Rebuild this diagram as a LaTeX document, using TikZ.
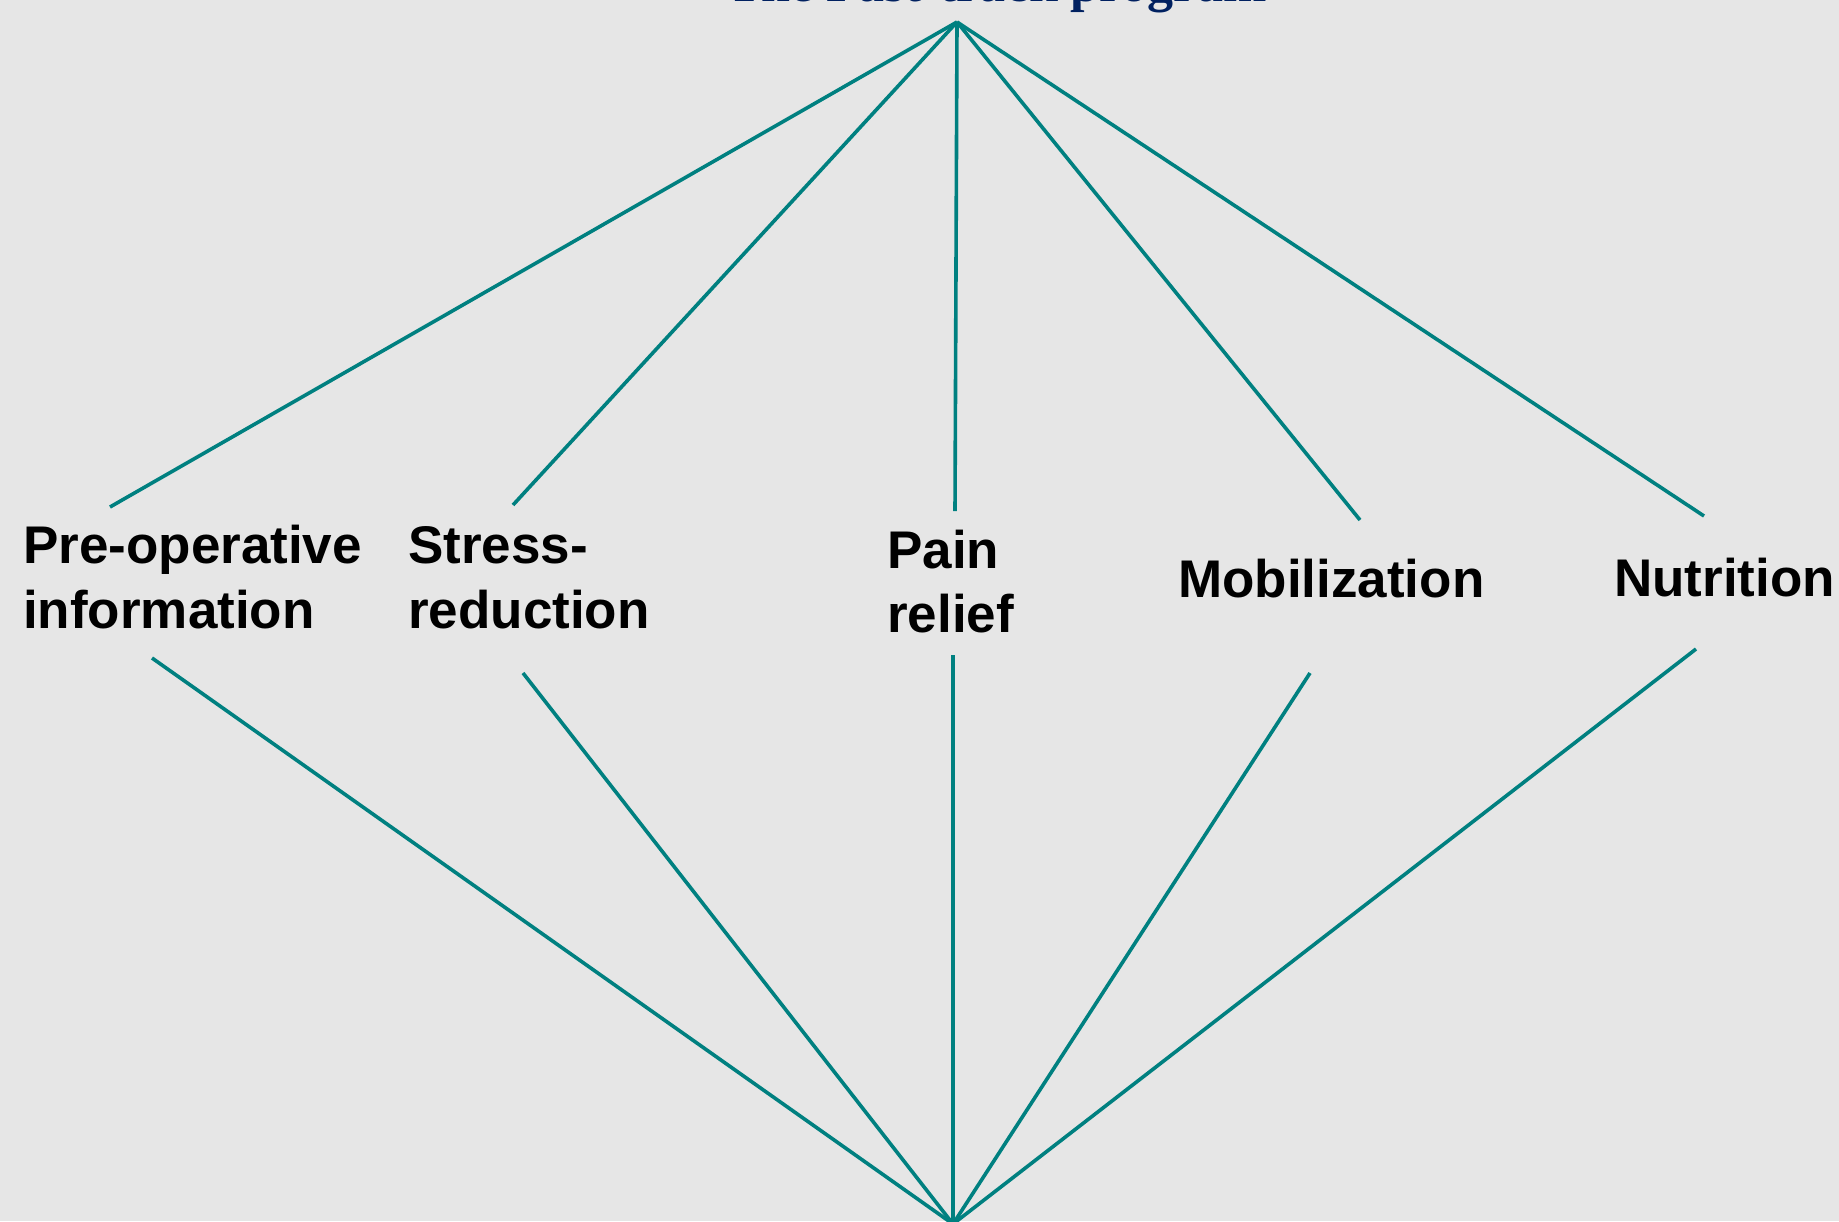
\documentclass[tikz,border=0pt]{standalone}
\usepackage{fontspec}
\setmainfont{Liberation Sans}
\newfontfamily\titlefont{Liberation Serif}
\definecolor{bgcol}{RGB}{230,230,230}
\definecolor{linecol}{RGB}{0,128,128}
\definecolor{titlecol}{RGB}{0,32,96}
\begin{document}
\begin{tikzpicture}[x=1pt,y=-1pt,
  lbl/.style={anchor=base west,inner sep=0pt,align=left,
    font=\fontsize{53}{65}\selectfont\bfseries,text=black},
  conn/.style={draw=linecol,line width=3.6pt}]
\useasboundingbox (0,0) rectangle (1839,1221);
\fill[bgcol] (0,0) rectangle (1839,1221);
\node[anchor=base west,inner sep=0pt,text=titlecol,
  font=\fontsize{52}{60}\titlefont\bfseries] (title) at (727,1) {The Fast-track program};
\coordinate (top) at (957,22);
\coordinate (bot) at (953,1224);
% labels (anchor at baseline of last line)
\node[lbl] (pre) at (23,628) {Pre-operative\\information};
\node[lbl] (stress) at (408,628) {Stress-\\reduction};
\node[lbl,font=\fontsize{53}{64}\selectfont\bfseries] (pain) at (887,632) {Pain\\relief};
\node[lbl] (mob) at (1178,597) {Mobilization};
\node[lbl] (nut) at (1614,596) {Nutrition};
% connector ends
\coordinate (preA) at (110,507);  \coordinate (preB) at (152,658);
\coordinate (strA) at (513,505);  \coordinate (strB) at (523,673);
\coordinate (painA) at (955,511); \coordinate (painB) at (953,655);
\coordinate (mobA) at (1360,520); \coordinate (mobB) at (1310,673);
\coordinate (nutA) at (1704,516); \coordinate (nutB) at (1696,649);
\foreach \e in {preA,strA,painA,mobA,nutA} \draw[conn] (top) -- (\e);
\foreach \e in {preB,strB,painB,mobB,nutB} \draw[conn] (\e) -- (bot);
\end{tikzpicture}
\end{document}
